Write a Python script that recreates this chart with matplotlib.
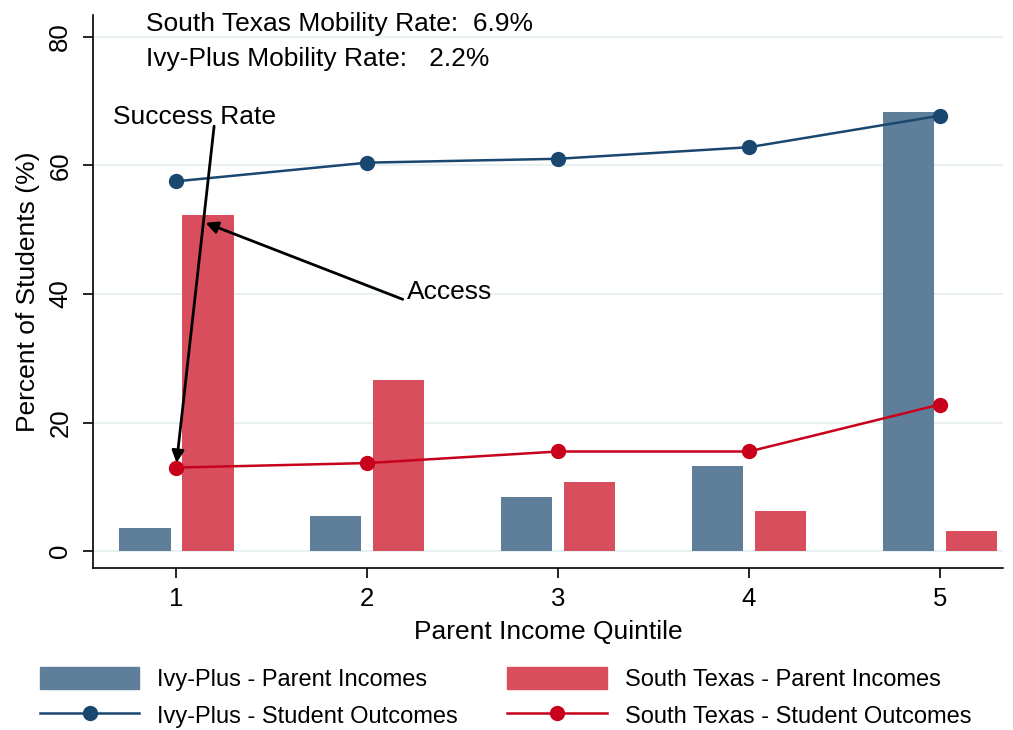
import numpy as np
import matplotlib.pyplot as plt
from matplotlib.patches import Patch
from matplotlib.lines import Line2D

plt.rcParams['font.family'] = ['Liberation Sans', 'DejaVu Sans']

quintiles = [1, 2, 3, 4, 5]
ivy_parent = [3.6, 5.4, 8.5, 13.2, 68.2]
texas_parent = [52.2, 26.6, 10.7, 6.2, 3.1]
ivy_outcome = [57.5, 60.4, 61.0, 62.8, 67.7]
texas_outcome = [13.0, 13.7, 15.5, 15.5, 22.8]

ivy_bar_col = '#5f7e9a'
tx_bar_col = '#d84e5c'
ivy_line_col = '#1a476f'
tx_line_col = '#c8001b'

fig = plt.figure(figsize=(10.13, 7.3), dpi=100)
ax = fig.add_axes([0.092, 0.222, 0.898, 0.757])

x = np.array(quintiles)
w = 0.27
ax.bar(x - 0.165, ivy_parent, width=w, color=ivy_bar_col, zorder=2)
ax.bar(x + 0.165, texas_parent, width=w, color=tx_bar_col, zorder=2)
ax.plot(x, ivy_outcome, color=ivy_line_col, marker='o', markersize=10, lw=1.8, zorder=3)
ax.plot(x, texas_outcome, color=tx_line_col, marker='o', markersize=10, lw=1.8, zorder=3)

ax.set_xlim(0.565, 5.33)
ax.set_ylim(-2.6, 83.3)
ax.set_yticks([0, 20, 40, 60, 80])
ax.set_xticks(quintiles)
ax.tick_params(axis='both', labelsize=18.5, length=7, width=1.2)
ax.tick_params(axis='x', pad=7)
ax.tick_params(axis='y', labelrotation=90, pad=8)
for lab in ax.get_yticklabels():
    lab.set_va('center')
ax.yaxis.grid(True, color='#e8f0f2', lw=1.5, zorder=0)
ax.set_axisbelow(True)
for s in ['top', 'right']:
    ax.spines[s].set_visible(False)
for s in ['left', 'bottom']:
    ax.spines[s].set_linewidth(1.2)

ax.set_xlabel('Parent Income Quintile', fontsize=19, labelpad=6)
ax.set_ylabel('Percent of Students (%)', fontsize=19, labelpad=6)

ax.text(0.84, 82.0, 'South Texas Mobility Rate:  6.9%', fontsize=19, va='center')
ax.text(0.84, 76.5, 'Ivy-Plus Mobility Rate:   2.2%', fontsize=19, va='center')

ax.annotate('', xy=(1.0, 13.3), xytext=(1.2, 66.5),
            arrowprops=dict(arrowstyle='-|>', color='black', lw=2, mutation_scale=18))
ax.text(0.67, 67.5, 'Success Rate', fontsize=19, va='center')
ax.annotate('', xy=(1.14, 51.2), xytext=(2.2, 39.0),
            arrowprops=dict(arrowstyle='-|>', color='black', lw=2, mutation_scale=18))
ax.text(2.21, 40.3, 'Access', fontsize=19, va='center')

handles = [Patch(color=ivy_bar_col),
           Line2D([], [], color=ivy_line_col, marker='o', markersize=10, lw=1.8),
           Patch(color=tx_bar_col),
           Line2D([], [], color=tx_line_col, marker='o', markersize=10, lw=1.8)]
labels = ['Ivy-Plus - Parent Incomes', 'Ivy-Plus - Student Outcomes',
          'South Texas - Parent Incomes', 'South Texas - Student Outcomes']
fig.legend(handles, labels, loc='lower left', bbox_to_anchor=(0.0395, 0.003), ncol=2,
           frameon=False, fontsize=17, handlelength=4.2, handleheight=1.06,
           columnspacing=2.1, handletextpad=0.76, labelspacing=0.55, borderpad=0,
           borderaxespad=0)

fig.savefig('out.png', dpi=100)
